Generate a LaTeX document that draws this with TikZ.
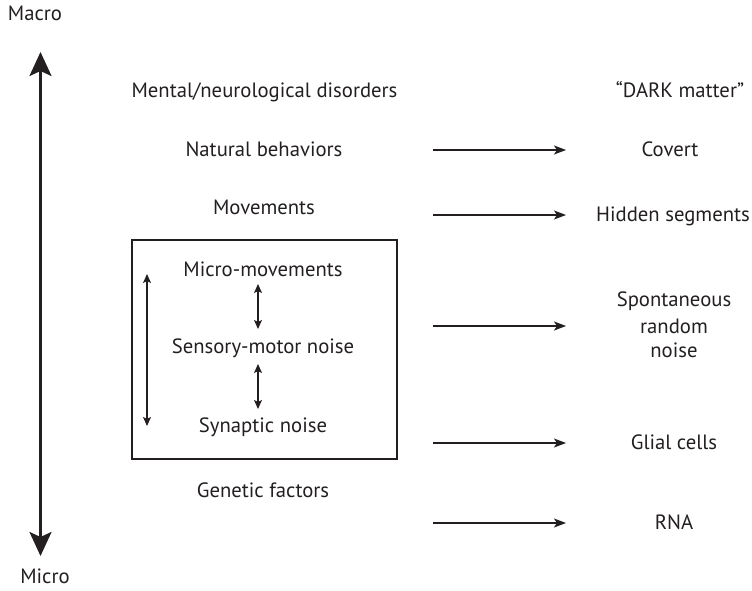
\documentclass[tikz,border=0pt]{standalone}
\usepackage{fontspec}
\setmainfont{PT Sans}
\usetikzlibrary{arrows.meta}
\definecolor{ink}{HTML}{231F20}
\begin{document}
\begin{tikzpicture}[x=1pt,y=-1pt,
  lbl/.style={font=\fontsize{20.7}{24}\selectfont, text=ink, inner sep=0pt, anchor=base},
  bigarrow/.style={draw=ink, line width=2.6pt, {Stealth[length=24pt,width=22pt,inset=5pt]}-{Stealth[length=24pt,width=22pt,inset=5pt]}},
  smallarrow/.style={draw=ink, line width=1.1pt, {Stealth[length=9pt,width=8pt,inset=2pt]}-{Stealth[length=9pt,width=8pt,inset=2pt]}},
  rarrow/.style={draw=ink, line width=1.2pt, -{Stealth[length=12pt,width=9pt,inset=3pt]}},
  boxstyle/.style={draw=ink, line width=2pt}]
\useasboundingbox (0,0) rectangle (752,591);

% left scale
\node[lbl] (macro) at (35,21) {Macro};
\node[lbl] (micro) at (45,583) {Micro};
\coordinate (top) at (40.5,52);
\coordinate (bot) at (40.5,556);
\draw[bigarrow] (bot) -- (top);

% middle column
\node[lbl] (mental) at (264.5,98) {Mental/neurological disorders};
\node[lbl] (natural) at (264,157) {Natural behaviors};
\node[lbl] (moves) at (264,214) {Movements};
\node[lbl] (micromv) at (263,276) {Micro-movements};
\node[lbl] (sensory) at (263,353) {Sensory-motor noise};
\node[lbl] (synaptic) at (263,432) {Synaptic noise};
\node[lbl] (genetic) at (263,497) {Genetic factors};

\draw[boxstyle] (132,240) rectangle (397,459);
\coordinate (a1t) at (258,284);
\coordinate (a1b) at (258,329);
\coordinate (a2t) at (258,364);
\coordinate (a2b) at (258,409);
\draw[smallarrow] (a1t) -- (a1b);
\draw[smallarrow] (a2t) -- (a2b);
\coordinate (lt) at (147,274);
\coordinate (lb) at (147,426);
\draw[smallarrow] (lt) -- (lb);

% right column
\node[lbl] (dark) at (680,98) {``DARK matter''};
\node[lbl] (covert) at (670,157) {Covert};
\node[lbl] (hidden) at (673,221) {Hidden segments};
\node[lbl] (spont) at (674,306) {Spontaneous};
\node[lbl] (random) at (674,333) {random};
\node[lbl] (noise) at (674,357) {noise};
\node[lbl] (glial) at (674,449) {Glial cells};
\node[lbl] (rna) at (674,529) {RNA};

\foreach \n/\y in {c/150, h/215, s/326, g/443, r/523}{
  \coordinate (\n s) at (433,\y);
  \coordinate (\n e) at (566,\y);
  \draw[rarrow] (\n s) -- (\n e);
}
\end{tikzpicture}
\end{document}
